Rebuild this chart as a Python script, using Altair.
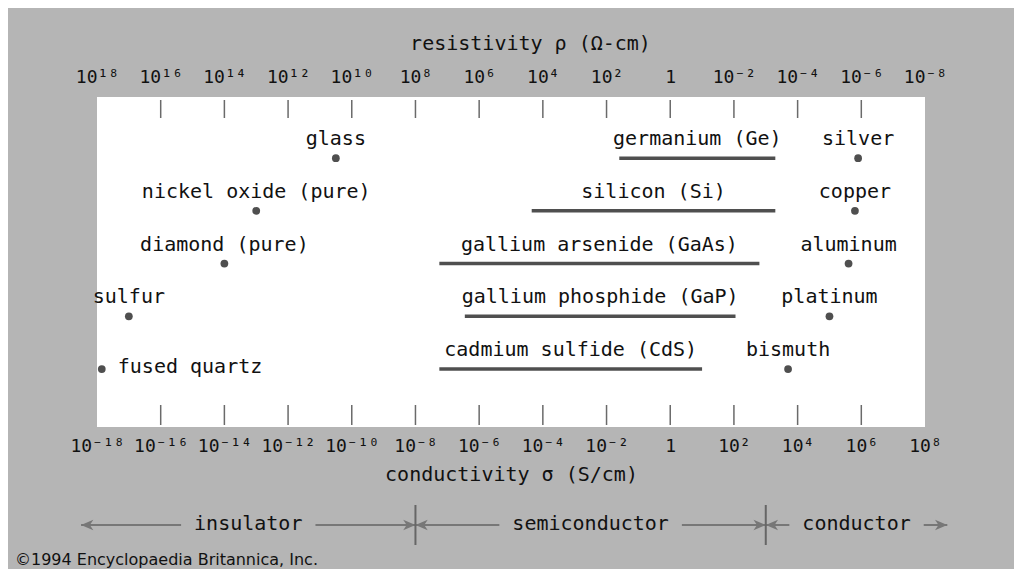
import altair as alt
import pandas as pd

# ---------------- data ----------------
x_ticks = [-18, -16, -14, -12, -10, -8, -6, -4, -2, 0, 2, 4, 6, 8]
bottom_labels = ["10⁻¹⁸", "10⁻¹⁶", "10⁻¹⁴", "10⁻¹²", "10⁻¹⁰", "10⁻⁸", "10⁻⁶",
                 "10⁻⁴", "10⁻²", "1", "10²", "10⁴", "10⁶", "10⁸"]
top_labels = ["10¹⁸", "10¹⁶", "10¹⁴", "10¹²", "10¹⁰", "10⁸", "10⁶",
              "10⁴", "10²", "1", "10⁻²", "10⁻⁴", "10⁻⁶", "10⁻⁸"]
inner_ticks = [-16, -14, -12, -10, -8, -6, -4, -2, 0, 2, 4, 6]

point_names = ["glass", "nickel oxide (pure)", "diamond (pure)", "sulfur", "fused quartz",
               "silver", "copper", "aluminum", "platinum", "bismuth"]
point_log_sigma = [-10.5, -13.0, -14.0, -17.0, -17.85, 5.9, 5.8, 5.6, 5.0, 3.7]
point_row = [0, 1, 2, 3, 4, 0, 1, 2, 3, 4]

range_names = ["germanium (Ge)", "silicon (Si)", "gallium arsenide (GaAs)",
               "gallium phosphide (GaP)", "cadmium sulfide  (CdS)"]
range_lo = [-1.6, -4.35, -7.25, -6.45, -7.25]
range_hi = [3.3, 3.3, 2.8, 2.05, 1.0]
range_row = [0, 1, 2, 3, 4]

class_names = ["insulator", "semiconductor", "conductor"]
class_bounds = [-18.5, -8, 3, 8.7]

copyright_text = "©1994 Encyclopaedia Britannica, Inc."

# ---------------- styling ----------------
FONT = "DejaVu Sans Mono"
W, H = 828, 330
px_per_dec = W / (x_ticks[-1] - x_ticks[0])
label_fs = 20
char_w = 0.602 * label_fs
gap_px = 13

xscale = alt.Scale(domain=[x_ticks[0], x_ticks[-1]], nice=False, zero=False)
yscale = alt.Scale(domain=[-1.16, 5.1], reverse=True)


def label_expr(labels):
    expr = "''"
    for v, lab in reversed(list(zip(x_ticks, labels))):
        expr = f"datum.value == {v} ? '{lab}' : ({expr})"
    return expr


points = pd.DataFrame({"name": point_names, "x": point_log_sigma, "row": point_row})
ranges = pd.DataFrame({"name": range_names, "lo": range_lo, "hi": range_hi, "row": range_row})
ranges["mid"] = (ranges["lo"] + ranges["hi"]) / 2
ticks = pd.DataFrame({"v": inner_ticks})

# band segments and arrowheads
seg_rows, head_rows, text_rows = [], [], []
for i, nm in enumerate(class_names):
    lo, hi = class_bounds[i], class_bounds[i + 1]
    mid = (lo + hi) / 2
    hw = (len(nm) * char_w / 2 + gap_px) / px_per_dec
    seg_rows.append({"x": lo, "x2": mid - hw})
    seg_rows.append({"x": mid + hw, "x2": hi})
    head_rows.append({"x": lo, "dir": "left"})
    head_rows.append({"x": hi, "dir": "right"})
    text_rows.append({"x": mid, "name": nm})
segs = pd.DataFrame(seg_rows)
heads = pd.DataFrame(head_rows)
band_text = pd.DataFrame(text_rows)
bounds = pd.DataFrame({"x": class_bounds[1:-1]})

TXT = "#111111"
MARK = "#4f4f4f"
BAND = "#777777"

axis_common = dict(values=x_ticks, domain=False, ticks=False, grid=False,
                   labelFont=FONT, labelFontSize=18, labelColor=TXT,
                   labelOverlap=False, labelBound=False, labelFlush=False,
                   titleFont=FONT, titleFontSize=20, titleColor=TXT,
                   titleFontWeight="normal")

top_ticks = alt.Chart(ticks).mark_rule(color="#6a6a6a", strokeWidth=1.5).encode(
    x=alt.X("v:Q", scale=xscale,
            axis=alt.Axis(orient="top", title="resistivity ρ (Ω-cm)",
                          labelExpr=label_expr(top_labels), labelPadding=11,
                          titlePadding=15, titleX=433, **axis_common)),
    y=alt.value(3), y2=alt.value(21))

bottom_ticks = alt.Chart(ticks).mark_rule(color="#6a6a6a", strokeWidth=1.5).encode(
    x=alt.X("v:Q", scale=xscale,
            axis=alt.Axis(orient="bottom", title="conductivity σ (S/cm)",
                          labelExpr=label_expr(bottom_labels), labelPadding=10,
                          titlePadding=9, **axis_common)),
    y=alt.value(308), y2=alt.value(328))

bars = alt.Chart(ranges).mark_rule(color=MARK, strokeWidth=3.5).encode(
    x=alt.X("lo:Q", scale=xscale, axis=None), x2="hi:Q",
    y=alt.Y("row:Q", scale=yscale, axis=None))

dots = alt.Chart(points).mark_circle(color=MARK, size=60, opacity=1).encode(
    x=alt.X("x:Q", scale=xscale, axis=None),
    y=alt.Y("row:Q", scale=yscale, axis=None))

dot_labels = alt.Chart(points).transform_filter(
    alt.datum.name != "fused quartz").mark_text(
    font=FONT, fontSize=label_fs, color=TXT, align="center", baseline="middle", dy=-19).encode(
    x=alt.X("x:Q", scale=xscale, axis=None),
    y=alt.Y("row:Q", scale=yscale, axis=None), text="name:N")

fq_label = alt.Chart(points).transform_filter(
    alt.datum.name == "fused quartz").mark_text(
    font=FONT, fontSize=label_fs, color=TXT, align="left", baseline="middle", dx=16, dy=-2).encode(
    x=alt.X("x:Q", scale=xscale, axis=None),
    y=alt.Y("row:Q", scale=yscale, axis=None), text="name:N")

range_labels = alt.Chart(ranges).mark_text(
    font=FONT, fontSize=label_fs, color=TXT, align="center", baseline="middle", dy=-19).encode(
    x=alt.X("mid:Q", scale=xscale, axis=None),
    y=alt.Y("row:Q", scale=yscale, axis=None), text="name:N")

band_lines = alt.Chart(segs).mark_rule(color=BAND, strokeWidth=2).encode(
    x=alt.X("x:Q", scale=xscale, axis=None), x2="x2:Q", y=alt.value(428))

right_shape = "M0,0L-1,-0.42L-0.72,0L-1,0.42Z"
left_shape = "M0,0L1,-0.42L0.72,0L1,0.42Z"
heads_r = alt.Chart(heads).transform_filter(alt.datum.dir == "right").mark_point(
    shape=right_shape, filled=True, color=BAND, size=600, opacity=1, dx=-2).encode(
    x=alt.X("x:Q", scale=xscale, axis=None), y=alt.value(428))
heads_l = alt.Chart(heads).transform_filter(alt.datum.dir == "left").mark_point(
    shape=left_shape, filled=True, color=BAND, size=600, opacity=1, dx=2).encode(
    x=alt.X("x:Q", scale=xscale, axis=None), y=alt.value(428))

bound_lines = alt.Chart(bounds).mark_rule(color="#666666", strokeWidth=2).encode(
    x=alt.X("x:Q", scale=xscale, axis=None), y=alt.value(408), y2=alt.value(448))

band_labels = alt.Chart(band_text).mark_text(
    font=FONT, fontSize=label_fs, color=TXT, align="center", baseline="middle").encode(
    x=alt.X("x:Q", scale=xscale, axis=None), y=alt.value(427), text="name:N")

copyright = alt.Chart(pd.DataFrame({"t": [copyright_text]})).mark_text(
    font="DejaVu Sans", fontSize=16, color=TXT, align="left", baseline="middle").encode(
    x=alt.value(-82), y=alt.value(463), text="t:N")

chart = alt.layer(
    top_ticks, bottom_ticks, bars, dots, dot_labels, fq_label, range_labels,
    band_lines, heads_r, heads_l, bound_lines, band_labels, copyright
).properties(
    width=W, height=H,
    autosize=alt.AutoSizeParams(type="none"),
    padding={"left": 89, "top": 89, "right": 89, "bottom": 142},
    background="#b5b5b5",
).configure_view(fill="white", stroke=None)

chart.save("out.html", embed_options={"renderer": "svg", "actions": False})
